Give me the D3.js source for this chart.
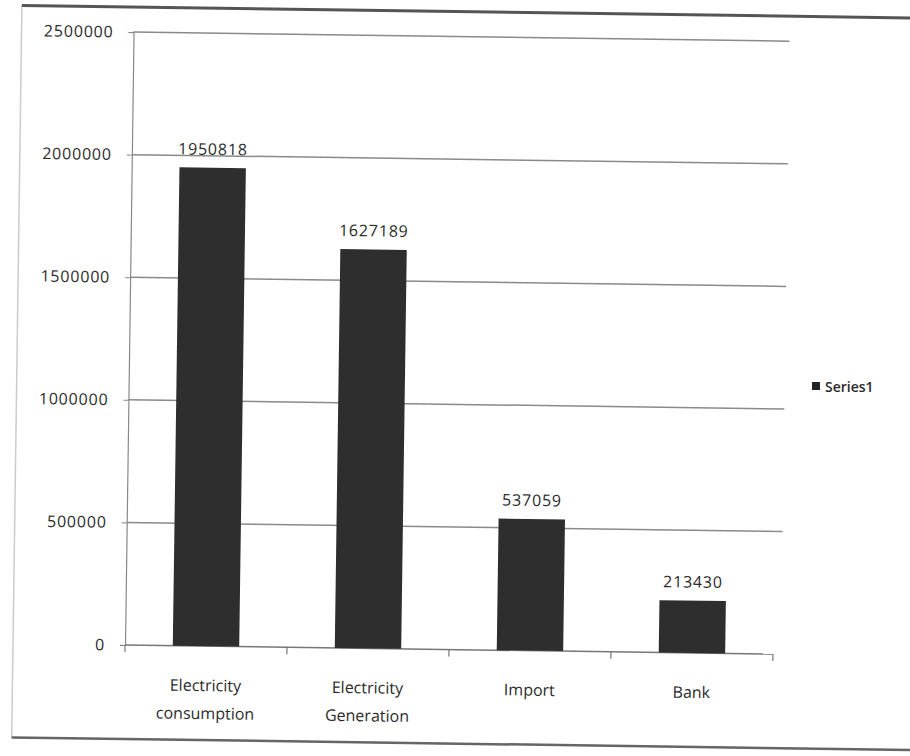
<!DOCTYPE html>
<html>
<head>
  <meta charset="utf-8" />
  <title>Electricity</title>
  <style>
    body { margin: 0; background: #fff; }
    svg text { font-family: "Open Sans", "Noto Sans", sans-serif; fill: #2a2a2a; }
  </style>
  <script src="https://cdnjs.cloudflare.com/ajax/libs/d3/7.8.5/d3.min.js"></script>
</head>
<body>
  <div id="chartArea"></div>
  <script>
    var categories = [['Electricity', 'consumption'], ['Electricity', 'Generation'], ['Import'], ['Bank']];
    var values = [1950818, 1627189, 537059, 213430];
    var yTicks = [0, 500000, 1000000, 1500000, 2000000, 2500000];
    var seriesName = 'Series1';

    var w = 910, h = 756;
    var x0 = 125, y0 = 645, plotW = 648, plotH = 613;

    var svg = d3.select('#chartArea').append('svg')
      .attr('width', w)
      .attr('height', h);

    // the photo is a little tilted, so turn the whole chart a touch
    var g = svg.append('g')
      .attr('transform', 'rotate(0.8,' + x0 + ',' + y0 + ') translate(' + x0 + ',' + (y0 - plotH) + ')');

    // page frame
    g.append('rect')
      .attr('x', -112).attr('y', -25)
      .attr('width', 900).attr('height', 732)
      .attr('fill', 'none')
      .attr('stroke', '#ccc')
      .attr('stroke-width', 1.5);
    g.append('line')
      .attr('x1', -112).attr('x2', 788)
      .attr('y1', -25).attr('y2', -25)
      .attr('stroke', '#555').attr('stroke-width', 3);
    g.append('line')
      .attr('x1', -112).attr('x2', 788)
      .attr('y1', 707).attr('y2', 707)
      .attr('stroke', '#666').attr('stroke-width', 2.5);

    var xScale = d3.scaleBand()
      .domain(d3.range(categories.length))
      .range([0, plotW])
      .paddingInner(0.59)
      .paddingOuter(0.295);

    var yScale = d3.scaleLinear()
      .domain([0, 2500000])
      .range([plotH, 0]);

    // gridlines
    g.append('g')
      .selectAll('line')
      .data(yTicks.slice(1))
      .enter()
      .append('line')
      .attr('x1', 0).attr('x2', plotW + 8)
      .attr('y1', d => yScale(d)).attr('y2', d => yScale(d))
      .attr('stroke', '#8a8a8a')
      .attr('stroke-width', 1.5);

    // y axis
    var yAxis = g.append('g')
      .call(d3.axisLeft(yScale).tickValues(yTicks).tickFormat(d3.format('d')).tickSize(5).tickPadding(15));
    yAxis.selectAll('text')
      .style('font-size', '16px')
      .style('letter-spacing', '0.8px');

    // x axis
    var xAxis = g.append('g')
      .attr('transform', 'translate(0,' + plotH + ')');
    xAxis.append('line')
      .attr('x1', 0).attr('x2', plotW)
      .attr('stroke', '#777').attr('stroke-width', 1.5);
    xAxis.selectAll('.tk')
      .data(d3.range(categories.length + 1))
      .enter()
      .append('line')
      .attr('class', 'tk')
      .attr('x1', d => d * plotW / categories.length)
      .attr('x2', d => d * plotW / categories.length)
      .attr('y1', 0).attr('y2', 7)
      .attr('stroke', '#777').attr('stroke-width', 1.2);

    yAxis.select('.domain').attr('stroke', '#888').attr('stroke-width', 1.2);
    yAxis.selectAll('.tick line').attr('stroke', '#888');

    // bars
    g.append('g')
      .selectAll('rect')
      .data(values)
      .enter()
      .append('rect')
      .attr('x', (d, i) => xScale(i))
      .attr('y', d => yScale(d))
      .attr('width', xScale.bandwidth())
      .attr('height', d => plotH - yScale(d))
      .attr('fill', '#2e2e2e');

    // value labels
    g.append('g')
      .selectAll('text')
      .data(values)
      .enter()
      .append('text')
      .attr('x', (d, i) => xScale(i) + xScale.bandwidth() / 2)
      .attr('y', d => yScale(d) - 13)
      .attr('text-anchor', 'middle')
      .style('font-size', '16px')
      .style('letter-spacing', '0.8px')
      .text(d => d);

    // category labels
    var cat = g.append('g')
      .selectAll('text')
      .data(categories)
      .enter()
      .append('text')
      .attr('x', (d, i) => xScale(i) + xScale.bandwidth() / 2)
      .attr('y', plotH + 45)
      .attr('text-anchor', 'middle')
      .style('font-size', '16px');
    cat.selectAll('tspan')
      .data(d => d)
      .enter()
      .append('tspan')
      .attr('x', function () { return d3.select(this.parentNode).attr('x'); })
      .attr('dy', (d, i) => i === 0 ? 0 : 28)
      .text(d => d);

    // legend
    var legend = svg.append('g').attr('transform', 'translate(812,387)');
    legend.append('rect')
      .attr('x', 0).attr('y', -5)
      .attr('width', 8).attr('height', 8)
      .attr('fill', '#222');
    legend.append('text')
      .attr('x', 13).attr('y', 5)
      .style('font-size', '14px')
      .style('font-weight', '600')
      .text(seriesName);
  </script>
</body>
</html>
